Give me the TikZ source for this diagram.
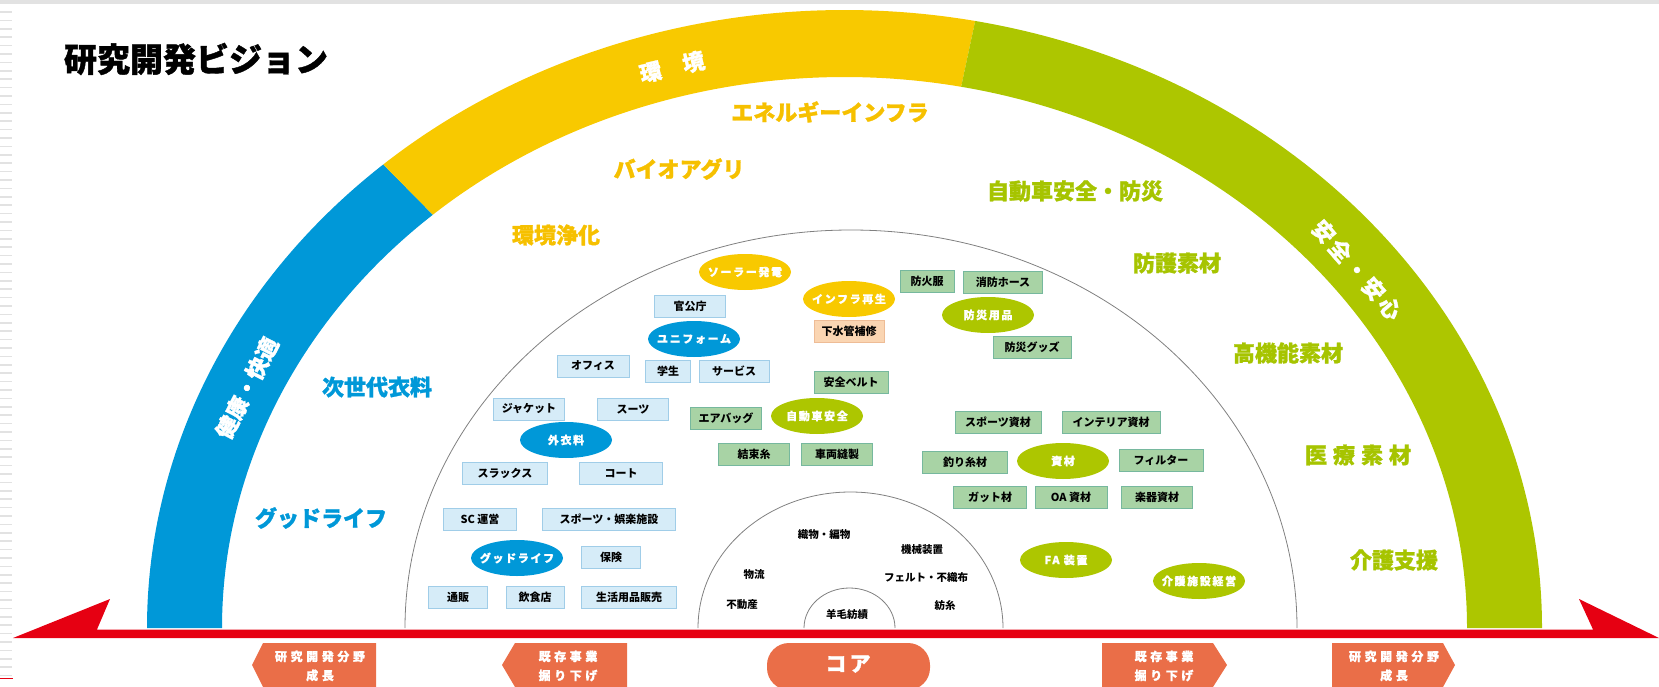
\documentclass[tikz,border=0pt]{standalone}
\usepackage{fontspec}
\newfontfamily\jp{Noto Sans CJK JP}
\newfontfamily\jpg{Noto Sans CJK JP}[BoldFeatures={FakeBold=1.2}]
\newfontfamily\jpe{Noto Sans CJK JP}[LetterSpace=15,BoldFeatures={FakeBold=1}]
\newfontfamily\jpee{Noto Sans CJK JP}[LetterSpace=30,BoldFeatures={FakeBold=1}]
\usetikzlibrary{shapes.geometric}
\definecolor{bleu}{RGB}{0,152,216}
\definecolor{jaune}{RGB}{248,201,0}
\definecolor{vert}{RGB}{173,198,0}
\definecolor{jauneT}{RGB}{246,192,0}
\definecolor{vertT}{RGB}{166,196,0}
\definecolor{rouge}{RGB}{230,0,18}
\definecolor{orange}{RGB}{234,110,72}
\definecolor{fondB}{RGB}{214,236,248}
\definecolor{bordB}{RGB}{160,205,232}
\definecolor{fondV}{RGB}{168,211,165}
\definecolor{bordV}{RGB}{118,184,158}
\definecolor{fondO}{RGB}{250,213,178}
\definecolor{bordO}{RGB}{238,188,150}
\definecolor{trait}{RGB}{128,128,128}
\definecolor{grisClair}{RGB}{226,226,226}

\begin{document}
\begin{tikzpicture}[x=1pt,y=-1pt]
\tikzstyle{titre}=[font=\jpg\bfseries\fontsize{33}{33}\selectfont]
\tikzstyle{bande}=[text=white,font=\jpg\bfseries\fontsize{22}{22}\selectfont]
\tikzstyle{domaine}=[font=\jpg\bfseries\fontsize{22}{22}\selectfont]
\tikzstyle{boite}=[draw,line width=0.8,minimum height=22,inner sep=0,font=\jp\bfseries\fontsize{11}{11}\selectfont]
\tikzstyle{boiteB}=[boite,draw=bordB,fill=fondB]
\tikzstyle{boiteV}=[boite,draw=bordV,fill=fondV]
\tikzstyle{boiteO}=[boite,draw=bordO,fill=fondO]
\tikzstyle{bulle}=[ellipse,minimum width=92,minimum height=36,inner xsep=-12,inner ysep=0,text=white,font=\jpe\bfseries\fontsize{11}{11}\selectfont]
\tikzstyle{coeur}=[font=\jp\bfseries\fontsize{10.5}{10.5}\selectfont]
\tikzstyle{etiquette}=[text=white,align=center,font=\jpee\bfseries\fontsize{12}{19}\selectfont]
\def\Ox{844.5}
\def\Oy{628}
\useasboundingbox (0,0) rectangle (1659,687);
% bord de page
\fill[grisClair] (0,0.5) rectangle (1659,4);
\foreach \y in {12,20.4,...,680} \draw[grisClair,line width=1.5] (0,\y) -- (12,\y);
\draw[rouge,line width=1] (0,678) -- (13,678);
% les trois bandes
\fill[bleu] (\Ox-697.5,\Oy) arc[start angle=180,end angle=228.6,x radius=697.5,y radius=618]
  -- ([shift={(228.6:622.5 and 551)}]\Ox,\Oy) arc[start angle=228.6,end angle=180,x radius=622.5,y radius=551] -- cycle;
\fill[jaune] ([shift={(228.6:697.5 and 618)}]\Ox,\Oy) arc[start angle=228.6,end angle=280.8,x radius=697.5,y radius=618]
  -- ([shift={(280.8:622.5 and 551)}]\Ox,\Oy) arc[start angle=280.8,end angle=228.6,x radius=622.5,y radius=551] -- cycle;
\fill[vert] ([shift={(280.8:697.5 and 618)}]\Ox,\Oy) arc[start angle=280.8,end angle=360,x radius=697.5,y radius=618]
  -- (\Ox+622.5,\Oy) arc[start angle=360,end angle=280.8,x radius=622.5,y radius=551] -- cycle;
% arcs gris
\draw[trait,line width=0.8] (405,628) arc[start angle=180,end angle=360,x radius=446,y radius=398];
\draw[trait,line width=0.8] (698,628) arc[start angle=180,end angle=360,x radius=152.5,y radius=136];
\draw[trait,line width=0.8] (804,628) arc[start angle=180,end angle=360,x radius=45.5,y radius=40];
% axe rouge
\fill[rouge] (13,638) -- (110,599) -- (97,629.5) -- (1593,629.5) -- (1579,599) -- (1659,638) -- cycle;
% titre et bandes
\node[titre] (Titre) at (196,59) {研究開発ビジョン};
\node[bande,rotate=63] (Sante) at (247,388) {健康・快適};
\node[bande,rotate=13] (Envir) at (672,67) {環　境};
\node[bande,rotate=-49,font=\jpe\bfseries\fontsize{22}{22}\selectfont] (Secu) at (1357,270) {安全・安心};
% domaines
\node[domaine,text=jauneT] (Da) at (830,112) {エネルギーインフラ};
\node[domaine,text=jauneT] (Db) at (679,169) {バイオアグリ};
\node[domaine,text=jauneT] (Dc) at (556,235) {環境浄化};
\node[domaine,text=vertT] (Dd) at (1075,191) {自動車安全・防災};
\node[domaine,text=vertT] (De) at (1177,263) {防護素材};
\node[domaine,text=vertT] (Df) at (1288,353) {高機能素材};
\node[domaine,text=vertT] (Dg) at (1358,455) {医\hspace{6pt}療\hspace{6pt}素\hspace{6pt}材};
\node[domaine,text=vertT] (Dh) at (1394,560) {介護支援};
\node[domaine,text=bleu] (Di) at (377,387) {次世代衣料};
\node[domaine,text=bleu] (Dj) at (321,518) {グッドライフ};
% bleu
\node[boiteB,minimum width=71] (Ba) at (690,306) {官公庁};
\node[bulle,fill=bleu] (Ua) at (694,339) {ユニフォーム};
\node[boiteB,minimum width=72] (Bb) at (593,366) {オフィス};
\node[boiteB,minimum width=45] (Bc) at (668,371) {学生};
\node[boiteB,minimum width=70] (Bd) at (734,371) {サービス};
\node[boiteB,minimum width=71] (Be) at (529,409) {ジャケット};
\node[boiteB,minimum width=71] (Bf) at (633,409) {スーツ};
\node[bulle,fill=bleu] (Ub) at (566,440) {外衣料};
\node[boiteB,minimum width=85] (Bg) at (505,473) {スラックス};
\node[boiteB,minimum width=83] (Bh) at (621,473) {コート};
\node[boiteB,minimum width=73] (Bi) at (480,519) {SC 運営};
\node[boiteB,minimum width=133] (Bj) at (609,519) {スポーツ・娯楽施設};
\node[bulle,fill=bleu] (Uc) at (517,558) {グッドライフ};
\node[boiteB,minimum width=59] (Bk) at (611,557) {保険};
\node[boiteB,minimum width=59] (Bl) at (458,597) {通販};
\node[boiteB,minimum width=58] (Bm) at (535,597) {飲食店};
\node[boiteB,minimum width=95] (Bn) at (629,597) {生活用品販売};
% jaune
\node[bulle,fill=jaune] (Ja) at (745,272) {ソーラー発電};
\node[bulle,fill=jaune] (Jb) at (849,299) {インフラ再生};
\node[boiteO,minimum width=70] (Jc) at (849,331) {下水管補修};
% vert
\node[boiteV,minimum width=74] (Va) at (851,382) {安全ベルト};
\node[boiteV,minimum width=71] (Vb) at (726,418) {エアバッグ};
\node[bulle,fill=vert] (Wa) at (817,416) {自動車安全};
\node[boiteV,minimum width=71] (Vc) at (754,454) {結束糸};
\node[boiteV,minimum width=71] (Vd) at (837,454) {車両縫製};
\node[boiteV,minimum width=54] (Ve) at (927,281) {防火服};
\node[boiteV,minimum width=79] (Vf) at (1003,282) {消防ホース};
\node[bulle,fill=vert] (Wb) at (988,315) {防災用品};
\node[boiteV,minimum width=78] (Vg) at (1032,347) {防災グッズ};
\node[boiteV,minimum width=86] (Vh) at (998,422) {スポーツ資材};
\node[boiteV,minimum width=98] (Vi) at (1111,422) {インテリア資材};
\node[boiteV,minimum width=85] (Vj) at (965,462) {釣り糸材};
\node[bulle,fill=vert] (Wc) at (1063,461) {資材};
\node[boiteV,minimum width=84] (Vk) at (1161,460) {フィルター};
\node[boiteV,minimum width=73] (Vl) at (990,497) {ガット材};
\node[boiteV,minimum width=72] (Vm) at (1071,497) {OA 資材};
\node[boiteV,minimum width=71] (Vn) at (1157,497) {楽器資材};
\node[bulle,fill=vert] (Wd) at (1066,560) {FA 装置};
\node[bulle,fill=vert] (We) at (1199,581) {介護施設経営};
% coeur
\node[coeur] (Ca) at (824,535) {織物・編物};
\node[coeur] (Cb) at (922,550) {機械装置};
\node[coeur] (Cc) at (926,578) {フェルト・不織布};
\node[coeur] (Cd) at (945,605) {紡糸};
\node[coeur] (Ce) at (754,575) {物流};
\node[coeur] (Cf) at (742,605) {不動産};
\node[coeur] (Cg) at (847,615) {羊毛紡績};
% etiquettes du bas
\fill[orange] (263,643) -- (376,643) -- (376,687) -- (263,687) -- (252,665) -- cycle;
\fill[orange] (515,643) -- (627,643) -- (627,687) -- (515,687) -- (502,665) -- cycle;
\fill[orange,rounded corners=22] (767,643) rectangle (930,690);
\fill[orange] (1102,643) -- (1213,643) -- (1227,665) -- (1213,687) -- (1102,687) -- cycle;
\fill[orange] (1332,643) -- (1443,643) -- (1455,665) -- (1443,687) -- (1332,687) -- cycle;
\node[etiquette] (La) at (320,666) {研究開発分野\\成長};
\node[etiquette] (Lb) at (568,666) {既存事業\\掘り下げ};
\node[etiquette,font=\jpe\bfseries\fontsize{21}{21}\selectfont] (Lc) at (848,664) {コア};
\node[etiquette] (Ld) at (1164,666) {既存事業\\掘り下げ};
\node[etiquette] (Le) at (1394,666) {研究開発分野\\成長};
\end{tikzpicture}
\end{document}
